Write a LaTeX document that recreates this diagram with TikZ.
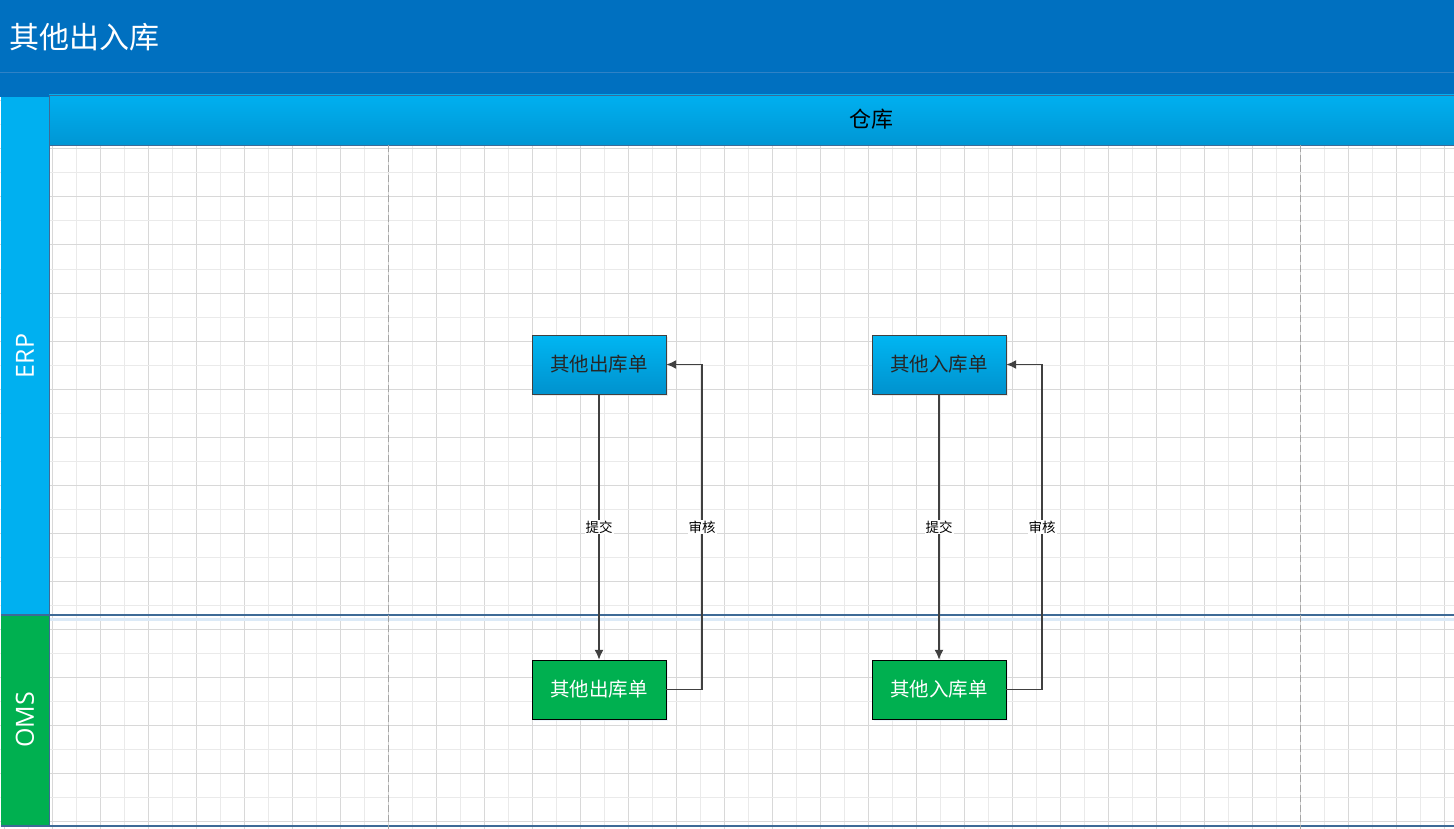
\documentclass[tikz,border=0pt]{standalone}
\usepackage{fontspec}
\usepackage{tikz}
\usetikzlibrary{arrows.meta,shadows}
\newfontfamily\cjk{Noto Sans CJK SC}
\newfontfamily\lanefont{Open Sans}
\definecolor{titleblue}{HTML}{0070C0}
\definecolor{titleline}{HTML}{2F82C6}
\definecolor{erpblue}{HTML}{00B0F0}
\definecolor{hdrlow}{HTML}{0096D4}
\definecolor{boxtop}{HTML}{00B6F2}
\definecolor{boxlow}{HTML}{0092CE}
\definecolor{omsgreen}{HTML}{00B050}
\definecolor{lanebd}{HTML}{3E6A96}
\definecolor{laneshade}{HTML}{DCEAF7}
\definecolor{gridlight}{HTML}{EAEAEA}
\definecolor{griddark}{HTML}{D8D8D8}
\definecolor{arrowgray}{HTML}{404040}
\definecolor{sepgray}{HTML}{A6A6A6}

\tikzset{
  erpbox/.style={draw=arrowgray, top color=boxtop, bottom color=boxlow,
    minimum width=134pt, minimum height=59pt, inner sep=0pt,
    font=\cjk\fontsize{19.5}{22}\selectfont, text=black!85,
    drop shadow={shadow xshift=2pt, shadow yshift=-2pt, fill=black!15}},
  omsbox/.style={draw=black, fill=omsgreen,
    minimum width=134pt, minimum height=59pt, inner sep=0pt,
    font=\cjk\fontsize{19.5}{22}\selectfont, text=white,
    drop shadow={shadow xshift=2pt, shadow yshift=-2pt, fill=laneshade}},
  flow/.style={draw=arrowgray, line width=1.6pt, -{Latex[length=10pt,width=9pt]}},
  flowlbl/.style={fill=white, inner sep=1pt, font=\cjk\fontsize{13.5}{15}\selectfont},
  lanelbl/.style={rotate=90, text=white, font=\lanefont\fontsize{25}{28}\selectfont}
}

\begin{document}
\begin{tikzpicture}[x=1pt, y=-1pt]
\useasboundingbox (0,0) rectangle (1454,829);
\fill[white] (0,0) rectangle (1454,829);

% grid
\foreach \k in {0,...,60}{
  \ifodd\k \draw[gridlight, line width=1pt] (4.5+24*\k,0) -- (4.5+24*\k,829);
  \else \draw[griddark, line width=1pt] (4.5+24*\k,0) -- (4.5+24*\k,829); \fi}
\foreach \k in {0,...,34}{
  \ifodd\k \draw[gridlight, line width=1pt] (0,5+24*\k) -- (1454,5+24*\k);
  \else \draw[griddark, line width=1pt] (0,5+24*\k) -- (1454,5+24*\k); \fi}

% title and lanes
\fill[titleblue] (0,0) rectangle (1454,97);
\draw[titleline, line width=1pt] (0,73) -- (1454,73);
\node[anchor=west, text=white, font=\cjk\fontsize{30}{34}\selectfont] (title) at (6,37) {其他出入库};
\fill[erpblue] (1,97) rectangle (49,615);
\fill[omsgreen] (1,615) rectangle (49,826);
\node[draw=lanebd, top color=erpblue, bottom color=hdrlow, minimum width=1405pt,
  minimum height=50pt, inner sep=0pt] (wh) at (751.5,120) {};
\node[font=\cjk\fontsize{22}{24}\selectfont] (whlbl) at (871,119) {仓库};
\node[lanelbl] (erp) at (25,356) {ERP};
\node[lanelbl] (oms) at (25,720) {OMS};
\draw[laneshade, line width=3pt] (49,619.5) -- (1454,619.5);
\draw[lanebd, line width=1.2pt] (1,615) -- (1454,615);
\draw[lanebd, line width=1.2pt] (1,826) -- (1454,826);
\draw[lanebd, line width=1pt] (49,97) -- (49,826);
\draw[sepgray, line width=1pt, dash pattern=on 7pt off 3pt] (388,145) -- (388,829);
\draw[sepgray, line width=1pt, dash pattern=on 7pt off 3pt] (1300,145) -- (1300,829);

% documents
\node[erpbox] (outerp) at (599,364.5) {其他出库单};
\node[erpbox] (inerp) at (939,364.5) {其他入库单};
\node[omsbox] (outoms) at (599,689.5) {其他出库单};
\node[omsbox] (inoms) at (939,689.5) {其他入库单};

\coordinate (outturn) at (702,689.5);
\coordinate (inturn) at (1042,689.5);
\path[flow] (outerp) -- node[flowlbl] {提交} (outoms);
\path[flow] (outoms.east) -- (outturn) -- node[flowlbl] {审核} (outturn |- outerp.east) -- (outerp.east);
\path[flow] (inerp) -- node[flowlbl] {提交} (inoms);
\path[flow] (inoms.east) -- (inturn) -- node[flowlbl] {审核} (inturn |- inerp.east) -- (inerp.east);
\end{tikzpicture}
\end{document}
